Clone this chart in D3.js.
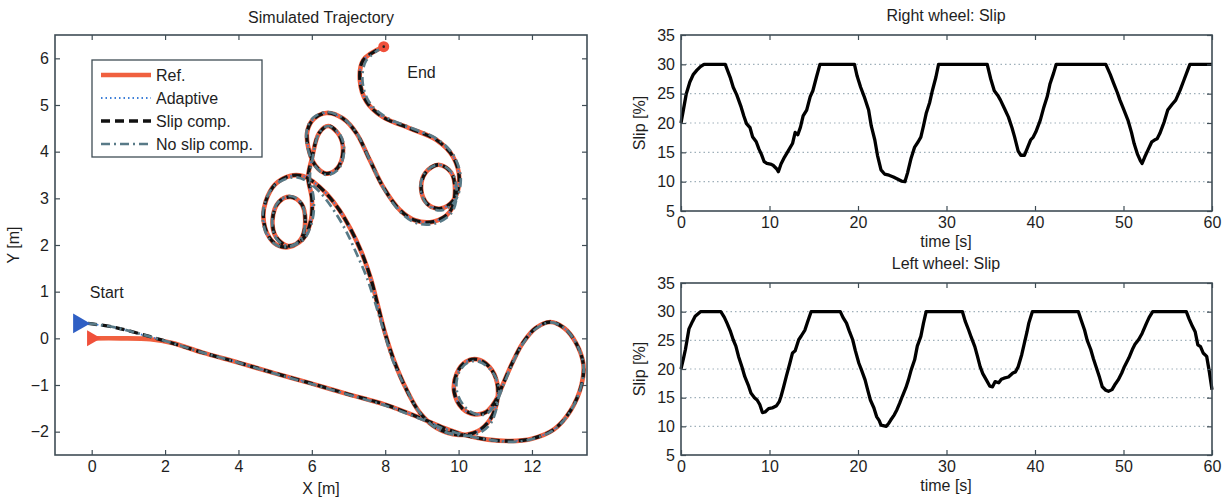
<!DOCTYPE html>
<html>
<head>
<meta charset="utf-8">
<script src="https://cdn.jsdelivr.net/npm/d3@7"></script>
<style>
  body { margin: 0; background: #fff; }
  svg text { font-family: "Liberation Sans", Arial, sans-serif; fill: #1e1e1e; }
</style>
</head>
<body>
<svg id="chart" width="1227" height="497"></svg>
<script>
// ---- data ----
const xTicksTraj = [0, 2, 4, 6, 8, 10, 12];
const yTicksTraj = [-2, -1, 0, 1, 2, 3, 4, 5, 6];
const timeTicks = [0, 10, 20, 30, 40, 50, 60];
const slipTicks = [5, 10, 15, 20, 25, 30, 35];
const slipGrid = [10, 15, 20, 25, 30];
const legendNames = ["Ref.", "Adaptive", "Slip comp.", "No slip comp."];

// reference path [x, y] in metres
const refPath = [
  [0,0],[0.8,0],[1.6,-0.02],[2.2,-0.1],[3,-0.3],[4,-0.52],[5,-0.75],[6,-0.97],[7,-1.2],[8,-1.42],
  [9,-1.72],[9.6,-1.92],[10.2,-2.08],[10.8,-2.17],[11.4,-2.2],[12,-2.15],[12.6,-1.95],[13.05,-1.55],
  [13.35,-1.0],[13.4,-0.55],[13.2,-0.1],[12.88,0.22],[12.5,0.35],[12.1,0.22],[11.75,-0.1],[11.45,-0.55],
  [11.2,-1.0],[11.0,-1.35],[10.75,-1.58],[10.45,-1.63],[10.1,-1.5],[9.88,-1.15],[9.95,-0.75],[10.2,-0.5],
  [10.5,-0.45],[10.85,-0.62],[11.05,-0.95],[11.05,-1.35],[10.85,-1.75],[10.5,-2.0],[10.0,-2.07],[9.4,-1.92],
  [8.95,-1.6],[8.55,-1.05],[8.25,-0.5],[8.0,0.1],[7.8,0.7],[7.6,1.3],[7.35,1.85],[7.05,2.35],[6.75,2.75],
  [6.4,3.1],[6.05,3.35],[5.75,3.48],[5.4,3.48],[5.0,3.3],[4.75,2.95],[4.68,2.6],[4.8,2.22],[5.05,2.0],
  [5.4,1.96],[5.7,2.12],[5.82,2.5],[5.72,2.88],[5.42,3.03],[5.1,2.92],[4.93,2.55],[5.02,2.18],[5.35,1.98],
  [5.75,2.12],[5.98,2.55],[6.0,3.0],[5.9,3.45],[6.0,3.85],[6.2,4.4],[6.45,4.55],[6.75,4.35],[6.85,4.0],
  [6.7,3.65],[6.4,3.53],[6.1,3.7],[5.9,4.1],[5.88,4.45],[6.05,4.7],[6.4,4.83],[6.85,4.71],[7.22,4.39],
  [7.58,3.82],[7.94,3.25],[8.4,2.75],[8.81,2.53],[9.31,2.5],[9.76,2.71],[9.9,3.1],[9.8,3.55],[9.45,3.72],
  [9.1,3.55],[8.98,3.2],[9.15,2.88],[9.5,2.78],[9.85,2.95],[10.02,3.4],[9.85,3.89],[9.4,4.25],[8.67,4.5],
  [7.94,4.74],[7.49,5.07],[7.31,5.53],[7.4,5.96],[7.96,6.25]
];
// robot runs start from the blue marker and join the reference
const slipStart = [[-0.1,0.32],[0.6,0.24],[1.3,0.1],[2.1,-0.08]];
const adaptiveStart = [[-0.1,0.32],[0.7,0.22],[1.5,0.05],[2.3,-0.12]];
const slipPath = slipStart.concat(refPath.slice(4));
const adaptivePath = adaptiveStart.concat(refPath.slice(4));
const noSlipPath = [
  [-0.1,0.32],[0.6,0.24],[1.3,0.1],[2.1,-0.08],[3,-0.3],[4,-0.52],[5,-0.76],[6,-0.98],[7,-1.21],[8,-1.44],
  [9,-1.74],[9.6,-1.94],[10.2,-2.08],[10.8,-2.17],[11.4,-2.22],[12,-2.16],[12.6,-1.96],[13.05,-1.56],
  [13.35,-1.0],[13.4,-0.55],[13.2,-0.1],[12.88,0.22],[12.5,0.34],[12.1,0.2],[11.75,-0.12],[11.45,-0.58],
  [11.2,-1.05],[11.0,-1.42],[10.75,-1.62],[10.45,-1.62],[10.15,-1.45],[9.95,-1.12],[10.0,-0.75],[10.25,-0.52],
  [10.55,-0.5],[10.9,-0.7],[11.1,-1.05],[11.05,-1.45],[10.85,-1.85],[10.5,-2.05],[10.0,-2.08],[9.4,-1.93],
  [8.95,-1.6],[8.55,-1.05],[8.22,-0.5],[7.98,0.1],[7.75,0.7],[7.5,1.3],[7.2,1.85],[6.9,2.35],[6.55,2.8],
  [6.2,3.15],[5.9,3.35],[5.6,3.45],[5.3,3.42],[4.95,3.25],[4.72,2.9],[4.66,2.55],[4.8,2.18],[5.08,1.98],
  [5.42,1.97],[5.72,2.15],[5.82,2.55],[5.7,2.92],[5.4,3.05],[5.08,2.92],[4.92,2.55],[5.02,2.15],[5.35,1.97],
  [5.78,2.12],[6.02,2.55],[6.05,3.0],[5.95,3.45],[6.02,3.85],[6.2,4.4],[6.45,4.55],[6.78,4.35],[6.88,4.0],
  [6.72,3.62],[6.4,3.5],[6.08,3.7],[5.88,4.1],[5.86,4.45],[6.03,4.72],[6.4,4.85],[6.85,4.72],[7.22,4.4],
  [7.58,3.82],[7.95,3.22],[8.42,2.7],[8.85,2.47],[9.35,2.46],[9.8,2.68],[9.95,3.1],[9.82,3.55],[9.45,3.72],
  [9.08,3.55],[8.96,3.2],[9.15,2.86],[9.52,2.74],[9.9,2.94],[10.06,3.4],[9.88,3.9],[9.42,4.27],[8.67,4.52],
  [7.98,4.76],[7.55,5.08],[7.38,5.53],[7.48,5.95],[7.96,6.25]
];
const robotStart = [-0.35, 0.32];
const refStart = [0, 0];
const endPoint = [7.96, 6.25];

// slip [%] vs time [s]
const rightWheel = [
  [0,20],[0.3,22.5],[0.6,25],[1,27],[1.4,28.3],[1.8,29],[2.2,29.6],[2.6,30],[5,30],[5.3,28.8],[5.6,27.6],
  [5.9,26.1],[6.3,24.8],[6.8,22.7],[7.1,21.2],[7.4,19.9],[7.8,19.2],[8.1,17.6],[8.5,16.8],[8.8,15.6],
  [9.1,14.6],[9.4,13.4],[9.7,13.1],[10.1,13],[10.4,12.8],[10.8,12.2],[11,11.7],[11.3,13],[11.7,14.2],
  [12.1,15.2],[12.6,16.5],[12.9,18.4],[13.2,18],[13.5,19.3],[13.8,21.2],[14.2,22.2],[14.6,24.5],[14.9,25.5],
  [15.3,27.8],[15.7,30],[19.6,30],[19.9,28],[20.3,26.1],[20.7,24.5],[21.2,22.2],[21.5,19.5],[21.9,17.1],
  [22.2,14.5],[22.6,12],[23,11.3],[23.5,11.1],[24,10.8],[24.4,10.5],[24.9,10.1],[25.3,10],[25.6,11.5],
  [26,14],[26.4,15.9],[26.8,16.8],[27.1,17.6],[27.4,19.5],[27.7,21.6],[28.1,23.5],[28.4,25.5],[28.8,27.8],
  [29.1,30],[34.6,30],[35,27.5],[35.4,25.5],[35.8,24.7],[36.1,23.9],[36.6,22.3],[37,21],[37.4,19.2],
  [37.7,17.6],[38.1,15.2],[38.4,14.5],[38.8,14.5],[39.1,15.6],[39.5,17.1],[39.8,17.6],[40.1,18.5],
  [40.6,20.5],[41,22.7],[41.4,24.6],[41.7,26.7],[42.1,28.5],[42.4,30],[48,30],[48.5,28.3],[48.9,26.7],
  [49.3,25.2],[49.6,23.9],[50,22.4],[50.5,20.5],[50.9,18.4],[51.2,16.5],[51.6,14.6],[51.9,13.6],[52.1,13.1],
  [52.4,14.2],[52.8,15.5],[53.2,16.8],[53.5,17.1],[53.8,17.3],[54.1,18.2],[54.6,20.2],[55,22.2],[55.5,23.2],
  [55.9,23.9],[56.4,25.6],[56.8,27.2],[57.2,28.8],[57.5,30],[60,30]
];
const leftWheel = [
  [0,20],[0.3,22],[0.5,23.4],[0.9,27],[1.3,28.3],[1.6,29.2],[2.2,30],[4.5,30],[4.9,29],[5.2,28],[5.6,26.5],
  [5.9,25.1],[6.2,24],[6.5,22.2],[6.9,20.3],[7.2,18.7],[7.6,17.2],[7.9,15.8],[8.3,15],[8.6,14.6],[8.9,13.8],
  [9.2,12.4],[9.5,12.5],[9.9,13.1],[10.3,13.2],[10.8,13.6],[11.1,14.3],[11.3,15.2],[11.6,16.9],[11.9,18.7],
  [12.3,21],[12.6,22.8],[12.9,23.2],[13.3,25.1],[13.6,25.8],[14,26.8],[14.3,28.2],[14.7,30],[18,30],
  [18.3,29],[18.7,28],[19,26.7],[19.4,25.1],[19.7,23.2],[20.1,21],[20.4,19.8],[20.8,18.1],[21.1,16.3],
  [21.4,14.6],[21.8,13.2],[22.1,11.7],[22.4,11],[22.6,10.2],[23.2,10],[23.5,10.6],[23.7,11.1],[24.1,12],
  [24.4,12.9],[24.7,14],[25,15.2],[25.4,16.7],[25.7,18.1],[26,19.8],[26.4,21.6],[26.7,24],[27.1,25.7],
  [27.4,28],[27.7,30],[31.8,30],[32.1,28.4],[32.5,26.8],[32.8,25.5],[33.2,23.9],[33.5,22.2],[33.8,20.4],
  [34.1,19.2],[34.5,18.1],[34.9,17],[35.2,16.9],[35.5,17.8],[35.9,17.6],[36.2,18.2],[36.5,18.4],[37,18.6],
  [37.5,19.3],[37.8,19.5],[38.1,20.4],[38.5,22.5],[38.8,24.5],[39.1,26.5],[39.3,28],[39.7,30],[44.9,30],
  [45.2,28.6],[45.6,26.8],[45.9,25],[46.3,23.4],[46.6,21.8],[46.9,20.4],[47.3,18.5],[47.6,16.9],[48,16.3],
  [48.3,16.1],[48.7,16.4],[49,17.2],[49.4,18.1],[49.8,19.3],[50.1,20.4],[50.6,21.9],[51,23.4],[51.3,24.3],
  [51.7,25.1],[52.1,26.2],[52.6,28],[52.9,29],[53.3,30],[57.1,30],[57.4,28.8],[57.8,27.4],[58.1,26.5],
  [58.4,24.2],[58.7,23.9],[59,22.8],[59.4,22.2],[59.7,19.5],[60,16.4]
];

// ---- drawing ----
const svg = d3.select("#chart");
const ink = "#3f4d55";
const fontSize = 16;

function frame(x, y, xt, yt) {
  const g = svg.append("g");
  const [x0, x1] = x.range();
  const [y0, y1] = y.range();
  g.append("g").attr("transform", `translate(0,${y0})`)
    .call(d3.axisBottom(x).tickValues(xt).tickSize(-5).tickSizeOuter(0).tickPadding(6).tickFormat(d3.format("d")));
  g.append("g").attr("transform", `translate(0,${y1})`)
    .call(d3.axisTop(x).tickValues(xt).tickSize(-5).tickSizeOuter(0).tickFormat(""));
  g.append("g").attr("transform", `translate(${x0},0)`)
    .call(d3.axisLeft(y).tickValues(yt).tickSize(-5).tickSizeOuter(0).tickPadding(6).tickFormat(d3.format("d")));
  g.append("g").attr("transform", `translate(${x1},0)`)
    .call(d3.axisRight(y).tickValues(yt).tickSize(-5).tickSizeOuter(0).tickFormat(""));
  g.selectAll(".domain").remove();
  g.selectAll(".tick line").attr("stroke", ink).attr("stroke-width", 1.2);
  g.selectAll(".tick text").attr("font-size", fontSize).attr("fill", "#1e1e1e")
    .attr("font-family", "Liberation Sans, Arial, sans-serif");
  g.append("rect")
    .attr("x", x0).attr("y", y1)
    .attr("width", x1 - x0).attr("height", y0 - y1)
    .attr("fill", "none").attr("stroke", ink).attr("stroke-width", 1.6);
}

function label(x, y, txt, rotate) {
  svg.append("text")
    .attr("x", x).attr("y", y)
    .attr("text-anchor", "middle")
    .attr("font-size", fontSize)
    .attr("transform", rotate ? `rotate(-90,${x},${y})` : null)
    .text(txt);
}

// trajectory plot
const xS = d3.scaleLinear().domain([-1, 13.5]).range([55, 587]);
const yS = d3.scaleLinear().domain([-2.5, 6.5]).range([455, 35]);
const traj = d3.line().x(d => xS(d[0])).y(d => yS(d[1])).curve(d3.curveCatmullRom.alpha(0.5));

const styles = [
  { path: refPath, stroke: "#f0603f", width: 4.6, dash: null },
  { path: adaptivePath, stroke: "#3d7fd8", width: 1.8, dash: "1.5,3" },
  { path: slipPath, stroke: "#111", width: 3.3, dash: "9,5" },
  { path: noSlipPath, stroke: "#587a87", width: 2.7, dash: "9,4,2,4" }
];

const gTraj = svg.append("g");
styles.forEach(s => {
  gTraj.append("path")
    .attr("d", traj(s.path))
    .attr("fill", "none")
    .attr("stroke", s.stroke)
    .attr("stroke-width", s.width)
    .attr("stroke-dasharray", s.dash)
    .attr("stroke-linejoin", "round");
});

// start / end markers
gTraj.append("path")
  .attr("d", d3.symbol(d3.symbolTriangle, 170)())
  .attr("transform", `translate(${xS(robotStart[0])},${yS(robotStart[1])}) rotate(90)`)
  .attr("fill", "#2f5fc4");
gTraj.append("path")
  .attr("d", d3.symbol(d3.symbolTriangle, 110)())
  .attr("transform", `translate(${xS(refStart[0])},${yS(refStart[1])}) rotate(90)`)
  .attr("fill", "#f0503a");
gTraj.append("circle")
  .attr("cx", xS(endPoint[0])).attr("cy", yS(endPoint[1])).attr("r", 5.5)
  .attr("fill", "#f0503a");
gTraj.append("circle")
  .attr("cx", xS(endPoint[0])).attr("cy", yS(endPoint[1])).attr("r", 1.3)
  .attr("fill", "#222");

svg.append("text").attr("x", xS(-0.05)).attr("y", yS(1.0) + 6).attr("font-size", fontSize).text("Start");
svg.append("text").attr("x", xS(8.6)).attr("y", yS(5.7) + 6).attr("font-size", fontSize).text("End");

frame(xS, yS, xTicksTraj, yTicksTraj);
label(321, 23, "Simulated Trajectory");
label(321, 494, "X [m]");
label(19, 245, "Y [m]", true);

// legend
const lg = svg.append("g").attr("transform", "translate(92,60)");
lg.append("rect").attr("width", 170).attr("height", 97)
  .attr("fill", "#fff").attr("stroke", ink).attr("stroke-width", 1.3);
legendNames.forEach((name, i) => {
  const s = styles[i];
  const yy = 15 + i * 23;
  lg.append("line").attr("x1", 9).attr("x2", 59).attr("y1", yy).attr("y2", yy)
    .attr("stroke", s.stroke).attr("stroke-width", s.width).attr("stroke-dasharray", s.dash);
  lg.append("text").attr("x", 64).attr("y", yy + 6).attr("font-size", fontSize).text(name);
});

// slip plots
const tS = d3.scaleLinear().domain([0, 60]).range([681, 1212]);
const panels = [
  { data: rightWheel, title: "Right wheel: Slip", top: 35, bottom: 211 },
  { data: leftWheel, title: "Left wheel: Slip", top: 283, bottom: 455 }
];
panels.forEach(p => {
  const sS = d3.scaleLinear().domain([5, 35]).range([p.bottom, p.top]);
  svg.append("g").selectAll("line").data(slipGrid).join("line")
    .attr("x1", tS(0)).attr("x2", tS(60))
    .attr("y1", d => sS(d)).attr("y2", d => sS(d))
    .attr("stroke", "#9fb0ba").attr("stroke-width", 1.1).attr("stroke-dasharray", "1.5,3");
  const line = d3.line().x(d => tS(d[0])).y(d => sS(d[1]));
  svg.append("path")
    .attr("d", line(p.data))
    .attr("fill", "none").attr("stroke", "#000").attr("stroke-width", 3.3)
    .attr("stroke-linejoin", "round");
  frame(tS, sS, timeTicks, slipTicks);
  label(946, p.top - 14, p.title);
  label(946, p.bottom + 36, "time [s]");
  label(645, (p.top + p.bottom) / 2, "Slip [%]", true);
});
</script>
</body>
</html>
